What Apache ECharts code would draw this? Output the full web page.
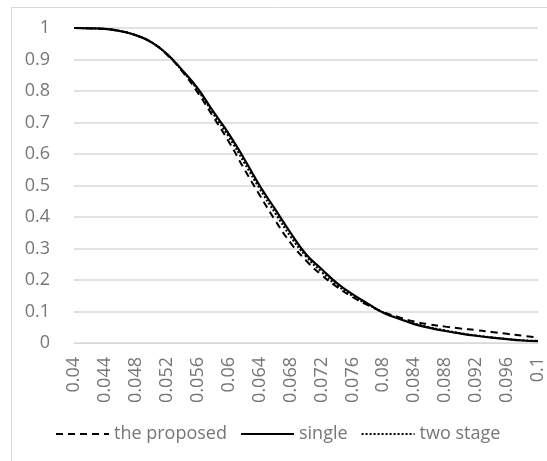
<!DOCTYPE html>
<html>
<head>
<meta charset="utf-8">
<script src="https://cdn.jsdelivr.net/npm/echarts@6/dist/echarts.min.js"></script>
<style>html,body{margin:0;padding:0;background:#fff}#c{width:547px;height:461px}</style>
</head>
<body>
<div id="c"></div>
<script>
const xValues = [0.040,0.042,0.044,0.046,0.048,0.050,0.052,0.054,0.056,0.058,0.060,0.062,0.064,0.066,0.068,0.070,0.072,0.074,0.076,0.078,0.080,0.082,0.084,0.086,0.088,0.090,0.092,0.094,0.096,0.098,0.100];
const proposed = [1.000,0.999,0.997,0.990,0.977,0.954,0.916,0.862,0.795,0.718,0.640,0.553,0.470,0.390,0.318,0.262,0.216,0.178,0.146,0.120,0.098,0.082,0.068,0.059,0.052,0.046,0.041,0.035,0.029,0.023,0.018];
const single = [1.000,0.999,0.997,0.990,0.977,0.955,0.918,0.866,0.808,0.735,0.665,0.585,0.500,0.425,0.350,0.282,0.235,0.190,0.155,0.125,0.096,0.077,0.060,0.048,0.038,0.030,0.023,0.017,0.012,0.008,0.006];
const twoStage = [1.000,0.999,0.997,0.990,0.977,0.955,0.917,0.864,0.803,0.728,0.655,0.573,0.490,0.413,0.338,0.275,0.226,0.183,0.150,0.122,0.097,0.078,0.062,0.050,0.040,0.031,0.024,0.018,0.013,0.009,0.007];
const seriesNames = ['the proposed','single','two stage'];

const font = 'Open Sans';
const txt = '#767676';
const pair = arr => xValues.map((x,i)=>[x,arr[i]]);
const chart = echarts.init(document.getElementById('c'), null, {renderer:'canvas'});
chart.setOption({
  animation:false,
  graphic:[{type:'rect', shape:{x:11.5,y:7.5,width:545,height:465}, style:{fill:'none',stroke:'#d9d9d9',lineWidth:1}, silent:true, z:-1}],
  grid:{left:74,right:8,top:28,bottom:118},
  xAxis:{type:'value',min:0.04,max:0.1,interval:0.004,
    axisLine:{show:true,lineStyle:{color:'#d9d9d9',width:1}},
    axisTick:{show:false},splitLine:{show:false},
    axisLabel:{rotate:90,margin:14,color:txt,fontFamily:font,fontSize:18,
      formatter:v=>String(parseFloat(v.toFixed(3)))}},
  yAxis:{type:'value',min:0,max:1,interval:0.1,
    axisLine:{show:false},axisTick:{show:false},
    splitLine:{lineStyle:{color:'#d9d9d9',width:1.5}},
    axisLabel:{margin:24,color:txt,fontFamily:font,fontSize:18,
      formatter:v=>String(parseFloat(v.toFixed(1)))}},
  legend:{left:50,top:420,itemWidth:53,itemHeight:14,itemGap:13,
    itemStyle:{opacity:0,borderWidth:0},
    textStyle:{color:txt,fontFamily:font,fontSize:18},
    data:seriesNames},
  series:[
    {name:seriesNames[0],type:'line',smooth:true,symbol:'none',data:pair(proposed),
      lineStyle:{color:'#000',width:2,type:[7,5]},itemStyle:{color:'#000'},z:3},
    {name:seriesNames[1],type:'line',smooth:true,symbol:'none',data:pair(single),
      lineStyle:{color:'#000',width:2.2,type:'solid'},itemStyle:{color:'#000'},z:2},
    {name:seriesNames[2],type:'line',smooth:true,symbol:'none',data:pair(twoStage),
      lineStyle:{color:'#000',width:2,type:[2,2]},itemStyle:{color:'#000'},z:4}
  ]
});
</script>
</body>
</html>
